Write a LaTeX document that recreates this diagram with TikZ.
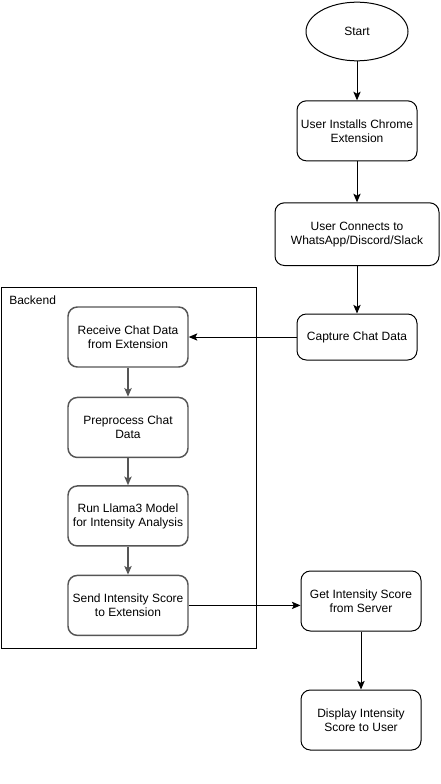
\documentclass[tikz,border=0pt]{standalone}
\usepackage{fontspec}
\setmainfont{Liberation Sans}
\usepackage{xcolor}
\usetikzlibrary{positioning, arrows.meta, shapes.geometric}
\definecolor{ink}{HTML}{000000}
\definecolor{inner}{HTML}{555555}

\begin{document}
\begin{tikzpicture}[x=0.75pt, y=-0.75pt, font=\fontsize{9}{10.5}\selectfont,
    >={Stealth[length=6.5pt,width=5.5pt,inset=1.5pt]},
    stepbox/.style={draw=ink, line width=0.75pt, rounded corners=7pt, align=center,
      minimum width=90pt, minimum height=45pt, inner sep=0pt},
    backbox/.style={stepbox, draw=inner, line width=1.1pt},
    flow/.style={->, draw=ink, line width=0.75pt},
    backflow/.style={->, draw=inner, line width=1.1pt}]
    \useasboundingbox (0,0) rectangle (441,784);

    % user side
    \node[ellipse, draw=ink, line width=0.75pt, minimum width=76.5pt,
          minimum height=44pt, inner sep=0pt] (start) at (357,31.5) {Start};
    \node[stepbox, below=29.25pt of start] (install) {User Installs Chrome\\Extension};
    \node[stepbox, minimum width=123pt, minimum height=47pt, below=30.75pt of install] (connect)
      {User Connects to\\WhatsApp/Discord/Slack};
    \node[stepbox, minimum height=34.5pt] (capture) at (357,337) {Capture Chat Data};

    % backend
    \node[draw=ink, line width=0.75pt, minimum width=191.25pt, minimum height=270.75pt,
          inner sep=0pt] (backend) at (128.5,467.5) {};
    \node[anchor=west, inner sep=0pt] (backlabel) at (9,300) {Backend};
    \node[backbox] (receive) at (128,337) {Receive Chat Data\\from Extension};
    \node[backbox, below=21.75pt of receive] (prep) {Preprocess Chat\\Data};
    \node[backbox, below=20.25pt of prep] (llama) {Run Llama3 Model\\for Intensity Analysis};
    \node[backbox, below=21pt of llama] (send) {Send Intensity Score\\to Extension};

    \node[stepbox] (fetch) at (361,601) {Get Intensity Score\\from Server};
    \node[stepbox, below=43.5pt of fetch] (show) {Display Intensity\\Score to User};

    \draw[flow] (start) -- (install);
    \draw[flow] (install) -- (connect);
    \draw[flow] (connect) -- (capture);
    \draw[flow] (capture.west) -- (capture.west -| receive.east);
    \draw[backflow] (receive) -- (prep);
    \draw[backflow] (prep) -- (llama);
    \draw[backflow] (llama) -- (send);
    \draw[flow] (send.east) -- (send.east -| fetch.west);
    \draw[flow] (fetch) -- (show);
  \end{tikzpicture}
\end{document}
